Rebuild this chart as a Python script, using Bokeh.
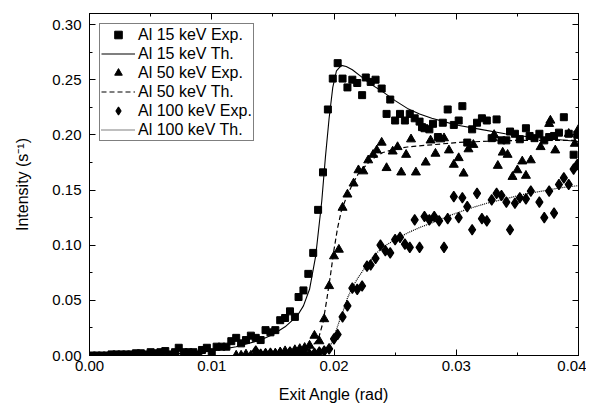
from bokeh.plotting import figure
from bokeh.models import Range1d, LinearAxis, SingleIntervalTicker, NumeralTickFormatter, CustomJSTickFormatter
from bokeh.embed import file_html
from bokeh.resources import INLINE

# ---------------- data ----------------
x15_exp = [0.0002,0.0006,0.0010,0.0014,0.0018,0.0022,0.0026,0.0030,0.0034,0.0038,
           0.0042,0.0046,0.0050,0.0054,0.0058,0.0062,0.0066,0.0070,0.0073,0.0077,
           0.0081,0.0085,0.0089,0.0092,0.0096,0.0100,0.0104,0.0108,0.0112,0.0116,
           0.0120,0.0124,0.0128,0.0132,0.0136,0.0140,0.0144,0.0148,0.0152,0.0156,
           0.0160,0.0164,0.0168,0.0171,0.0175,0.0179,0.0183,0.0187,0.0191,0.0195,
           0.0199,0.0203,0.0207,0.0211,0.0215,0.0219,0.0223,0.0226,0.0230,0.0234,
           0.0239,0.0243,0.0246,0.0250,0.0254,0.0258,0.0262,0.0266,0.0270,0.0272,
           0.0274,0.0278,0.0281,0.0285,0.0289,0.0293,0.0298,0.0302,0.0305,0.0309,
           0.0313,0.0317,0.0321,0.0325,0.0329,0.0333,0.0337,0.0341,0.0344,0.0348,
           0.0352,0.0357,0.0360,0.0364,0.0368,0.0372,0.0376,0.0380,0.0384,0.0388,
           0.0392,0.0396,0.0399]
y15_exp = [0.000,0.000,0.000,0.000,0.001,0.001,0.001,0.001,0.001,0.002,
           0.002,0.001,0.003,0.002,0.003,0.004,0.001,0.003,0.007,0.003,
           0.003,0.003,0.001,0.005,0.007,0.003,0.008,0.008,0.008,0.013,
           0.016,0.011,0.014,0.018,0.016,0.014,0.023,0.021,0.023,0.032,
           0.034,0.040,0.035,0.053,0.059,0.074,0.093,0.132,0.166,0.223,
           0.251,0.265,0.251,0.243,0.250,0.247,0.236,0.252,0.248,0.250,
           0.242,0.219,0.232,0.213,0.219,0.213,0.219,0.215,0.212,0.207,
           0.206,0.205,0.210,0.198,0.211,0.223,0.209,0.213,0.226,0.193,
           0.205,0.211,0.215,0.213,0.197,0.214,0.195,0.195,0.203,0.201,
           0.196,0.206,0.199,0.197,0.201,0.195,0.198,0.199,0.202,0.216,
           0.201,0.182,0.200]

x15_th = [0.000,0.004,0.008,0.010,0.012,0.014,0.015,0.016,0.017,0.0175,0.018,0.0185,
          0.019,0.0193,0.0196,0.0199,0.0202,0.0206,0.0210,0.0215,0.0222,0.023,0.024,
          0.025,0.026,0.027,0.028,0.029,0.030,0.032,0.034,0.036,0.038,0.040]
y15_th = [0.000,0.0005,0.002,0.004,0.008,0.014,0.019,0.026,0.036,0.045,0.060,0.090,
          0.140,0.180,0.215,0.243,0.258,0.263,0.262,0.259,0.253,0.246,0.239,
          0.231,0.224,0.219,0.215,0.212,0.209,0.205,0.201,0.198,0.196,0.194]

x50_exp = [0.0120,0.0124,0.0128,0.0132,0.0136,0.0140,0.0144,0.0148,0.0152,0.0156,
           0.0160,0.0164,0.0168,0.0172,0.0176,0.0180,0.0184,0.0188,0.0192,0.0196,
           0.0200,0.0204,0.0207,0.0211,0.0216,0.0220,0.0224,0.0228,0.0232,0.0235,
           0.0239,0.0243,0.0248,0.0252,0.0255,0.0259,0.0263,0.0267,0.0275,0.0279,
           0.0283,0.0287,0.0290,0.0294,0.0298,0.0302,0.0306,0.0310,0.0314,0.0330,
           0.0331,0.0334,0.0338,0.0342,0.0346,0.0350,0.0354,0.0357,0.0361,0.0369,
           0.0376,0.0377,0.0381,0.0392,0.0397,0.0400]
y50_exp = [0.000,0.000,0.001,0.000,0.001,0.001,0.002,0.001,0.002,0.003,
           0.004,0.003,0.005,0.006,0.007,0.009,0.018,0.013,0.033,0.063,
           0.090,0.096,0.134,0.146,0.156,0.168,0.167,0.177,0.182,0.186,
           0.193,0.170,0.185,0.189,0.166,0.182,0.196,0.166,0.175,0.195,
           0.183,0.196,0.197,0.186,0.173,0.179,0.165,0.187,0.191,0.197,
           0.200,0.172,0.184,0.182,0.162,0.168,0.176,0.163,0.177,0.189,
           0.210,0.213,0.186,0.201,0.192,0.205]

x50_th = [0.0120,0.0150,0.0170,0.0180,0.0185,0.0188,0.0191,0.0194,0.0197,0.0200,
          0.0203,0.0206,0.0210,0.0215,0.0220,0.0230,0.0240,0.0250,0.0260,0.0280,
          0.0300,0.0320,0.0350,0.0400]
y50_th = [0.000,0.001,0.003,0.006,0.012,0.018,0.030,0.050,0.072,0.096,
          0.116,0.131,0.143,0.155,0.165,0.177,0.184,0.187,0.189,0.191,
          0.193,0.194,0.195,0.195]

x100_exp = [0.0136,0.0140,0.0144,0.0148,0.0152,0.0156,0.0160,0.0164,0.0168,0.0172,
            0.0176,0.0180,0.0184,0.0188,0.0192,0.0196,0.0200,0.0203,0.0207,0.0211,
            0.0215,0.0219,0.0223,0.0227,0.0230,0.0234,0.0238,0.0242,0.0246,0.0250,
            0.0254,0.0258,0.0262,0.0266,0.0270,0.0274,0.0278,0.0282,0.0286,0.0290,
            0.0293,0.0298,0.0302,0.0305,0.0309,0.0313,0.0317,0.0321,0.0325,0.0329,
            0.0333,0.0337,0.0341,0.0344,0.0348,0.0352,0.0357,0.0361,0.0368,0.0372,
            0.0376,0.0380,0.0384,0.0388,0.0392,0.0396,0.0399]
y100_exp = [0.004,0.001,0.001,0.002,0.001,0.002,0.001,0.003,0.002,0.001,
            0.002,0.001,0.002,0.003,0.004,0.006,0.015,0.019,0.035,0.045,
            0.061,0.060,0.063,0.081,0.082,0.088,0.100,0.095,0.093,0.105,
            0.107,0.101,0.098,0.123,0.098,0.126,0.123,0.126,0.122,0.098,
            0.124,0.144,0.125,0.143,0.135,0.114,0.147,0.124,0.122,0.141,
            0.147,0.145,0.139,0.114,0.138,0.143,0.142,0.149,0.139,0.125,
            0.149,0.129,0.155,0.161,0.155,0.169,0.173]

x100_th = [0.0130,0.0170,0.0185,0.0190,0.0195,0.0198,0.0201,0.0204,0.0208,0.0211,
           0.0215,0.0220,0.0228,0.0235,0.0241,0.0250,0.0260,0.0270,0.0282,0.0295,
           0.0310,0.0325,0.0340,0.0355,0.0370,0.0385,0.0400]
y100_th = [0.000,0.001,0.002,0.003,0.006,0.011,0.020,0.030,0.042,0.052,
           0.062,0.071,0.084,0.093,0.099,0.105,0.111,0.116,0.121,0.127,
           0.133,0.138,0.142,0.146,0.149,0.152,0.154]

FONT = "Liberation Sans"

p = figure(width=586, height=405, output_backend="svg", toolbar_location=None,
           x_range=Range1d(0, 0.04), y_range=Range1d(0, 0.31),
           min_border_left=89, min_border_right=8, min_border_top=13, min_border_bottom=48,
           x_axis_label="Exit Angle (rad)", y_axis_label="Intensity (s\u207b\u00b9)")

p.xgrid.visible = False
p.ygrid.visible = False
p.outline_line_color = "black"
p.outline_line_width = 1
p.background_fill_color = "white"
p.border_fill_color = "white"

xt = SingleIntervalTicker(interval=0.01, num_minor_ticks=2)
yt = SingleIntervalTicker(interval=0.05, num_minor_ticks=2)
p.xaxis.ticker = xt
p.yaxis.ticker = yt
p.xaxis.formatter = NumeralTickFormatter(format="0.00")
p.yaxis.formatter = NumeralTickFormatter(format="0.00")

for ax in (p.xaxis[0], p.yaxis[0]):
    ax.major_tick_in = 6
    ax.major_tick_out = 0
    ax.minor_tick_in = 3
    ax.minor_tick_out = 0
    ax.axis_line_color = "black"
    ax.major_tick_line_color = "black"
    ax.minor_tick_line_color = "black"
    ax.major_label_text_font = FONT
    ax.major_label_text_font_size = "15px"
    ax.major_label_text_color = "black"
    ax.axis_label_text_font = FONT
    ax.axis_label_text_font_size = "16px"
    ax.axis_label_text_font_style = "normal"
    ax.axis_label_text_color = "black"

p.xaxis.major_label_standoff = 5
p.xaxis.axis_label_standoff = 12
p.yaxis.major_label_standoff = 8
p.yaxis.axis_label_standoff = 18

blank = CustomJSTickFormatter(code="return ''")
for side, tk in (("above", xt), ("right", yt)):
    ax = LinearAxis(ticker=tk, formatter=blank, major_label_standoff=0,
                    major_tick_in=6, major_tick_out=0, minor_tick_in=3, minor_tick_out=0,
                    axis_line_color="black")
    p.add_layout(ax, side)

# ---------------- glyphs ----------------
p.scatter(x15_exp, y15_exp, marker="square", size=7, color="black", legend_label="Al 15 keV Exp.")
p.line(x15_th, y15_th, line_color="black", line_width=1.1, legend_label="Al 15 keV Th.")
p.scatter(x50_exp, y50_exp, marker="triangle", size=9, color="black", legend_label="Al 50 keV Exp.")
p.line(x50_th, y50_th, line_color="black", line_width=1.2, line_dash="5 3", legend_label="Al 50 keV Th.")
p.scatter(x100_exp, y100_exp, marker="diamond", size=10.5, color="black", line_width=1.2,
          legend_label="Al 100 keV Exp.")
p.line(x100_th, y100_th, line_color="black", line_width=1.2, line_dash="1 1", legend_label="Al 100 keV Th.")

lg = p.legend[0]
lg.location = "top_left"
lg.margin = 10
lg.padding = 1
lg.spacing = 0
lg.glyph_width = 34
lg.glyph_height = 19
lg.label_height = 19
lg.label_standoff = 3
lg.label_text_font = FONT
lg.label_text_font_size = "16px"
lg.label_text_color = "black"
lg.border_line_color = "black"
lg.border_line_width = 1
lg.background_fill_color = "white"
lg.background_fill_alpha = 1

open("out.html", "w").write(file_html(p, INLINE))
